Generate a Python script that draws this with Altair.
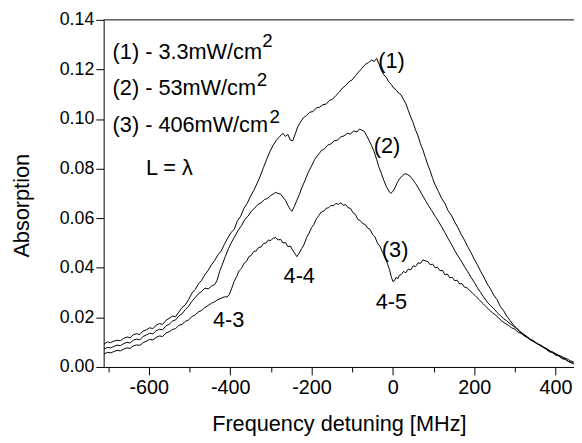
import altair as alt
import pandas as pd

# ---- data ----
f1 = [-710, -702, -694, -686, -678, -670, -662, -654, -646, -638,
      -630, -622, -614, -606, -598, -590, -582, -574, -566, -558,
      -550, -542, -534, -526, -518, -510, -502, -494, -486, -478,
      -470, -462, -454, -446, -438, -430, -422, -414, -406, -398,
      -390, -382, -374, -366, -358, -350, -342, -334, -326, -318,
      -310, -302, -294, -286, -278, -270, -264, -258, -252, -246,
      -240, -234, -228, -220, -212, -204, -196, -188, -180, -172,
      -164, -156, -148, -140, -132, -124, -116, -108, -100, -92,
      -84, -76, -68, -60, -52, -46, -40, -34, -28, -22,
      -16, -10, -4, 2, 8, 14, 20, 26, 32, 38,
      44, 50, 56, 62, 68, 74, 80, 86, 92, 98,
      104, 112, 120, 128, 136, 144, 152, 160, 168, 176,
      184, 192, 200, 208, 216, 224, 232, 240, 248, 256,
      264, 272, 280, 288, 296, 304, 312, 320, 328, 336,
      344, 352, 360, 368, 376, 384, 392, 400, 408, 416,
      424, 432, 440, 445]
a1 = [.0092, .0101, .0098, .0104, .0108, .0106, .0115, .0121, .0118, .0130,
      .0134, .0131, .0145, .0150, .0158, .0155, .0168, .0175, .0172, .0188,
      .0196, .0205, .0203, .0222, .0240, .0251, .0272, .0298, .0312, .0335,
      .0350, .0372, .0390, .0412, .0430, .0452, .0468, .0495, .0520, .0542,
      .0555, .0590, .0608, .0640, .0660, .0688, .0712, .0740, .0770, .0805,
      .0838, .0870, .0895, .0915, .0930, .0942, .0930, .0938, .0915, .0912,
      .0940, .0968, .0985, .1005, .1015, .1028, .1030, .1045, .1048, .1058,
      .1060, .1075, .1080, .1095, .1108, .1125, .1135, .1150, .1158, .1175,
      .1190, .1205, .1220, .1228, .1238, .1232, .1245, .1222, .1195, .1178,
      .1168, .1150, .1140, .1125, .1118, .1105, .1098, .1080, .1062, .1035,
      .1008, .0985, .0955, .0932, .0900, .0875, .0845, .0815, .0790, .0760,
      .0735, .0708, .0680, .0660, .0630, .0612, .0585, .0562, .0535, .0512,
      .0485, .0462, .0435, .0412, .0385, .0362, .0335, .0315, .0290, .0272,
      .0245, .0228, .0205, .0188, .0170, .0158, .0142, .0132, .0122, .0112,
      .0108, .0098, .0090, .0082, .0076, .0065, .0060, .0050, .0046, .0036,
      .0032, .0022, .0018, .0012]

f2 = [-710, -702, -694, -686, -678, -670, -662, -654, -646, -638,
      -630, -622, -614, -606, -598, -590, -582, -574, -566, -558,
      -550, -542, -534, -526, -518, -510, -502, -494, -486, -478,
      -470, -462, -454, -446, -438, -432, -426, -420, -412, -404,
      -396, -388, -380, -372, -364, -356, -348, -340, -332, -324,
      -316, -308, -300, -294, -288, -282, -276, -270, -264, -258,
      -252, -248, -242, -236, -230, -224, -216, -208, -200, -192,
      -184, -176, -168, -160, -152, -144, -136, -128, -120, -112,
      -104, -96, -88, -82, -76, -70, -64, -58, -52, -46,
      -40, -34, -28, -22, -16, -10, -5, 0, 6, 12,
      18, 24, 30, 36, 42, 48, 56, 64, 72, 80,
      88, 96, 104, 112, 120, 128, 136, 144, 152, 160,
      168, 176, 184, 192, 200, 208, 216, 224, 232, 240,
      248, 256, 264, 272, 280, 288, 296, 304, 312, 320,
      328, 336, 344, 352, 360, 368, 376, 384, 392, 400,
      408, 416, 424, 432, 440, 445]
a2 = [.0072, .0079, .0077, .0083, .0088, .0086, .0094, .0099, .0097, .0108,
      .0112, .0110, .0123, .0129, .0136, .0134, .0146, .0152, .0150, .0166,
      .0172, .0185, .0190, .0206, .0215, .0232, .0245, .0265, .0280, .0295,
      .0305, .0318, .0315, .0326, .0332, .0350, .0385, .0410, .0445, .0478,
      .0505, .0528, .0552, .0570, .0595, .0608, .0628, .0640, .0655, .0662,
      .0675, .0680, .0692, .0698, .0704, .0700, .0697, .0685, .0672, .0652,
      .0635, .0628, .0648, .0672, .0695, .0722, .0752, .0785, .0810, .0838,
      .0855, .0872, .0880, .0895, .0900, .0912, .0915, .0928, .0932, .0942,
      .0940, .0952, .0948, .0960, .0955, .0950, .0932, .0912, .0892, .0868,
      .0838, .0805, .0780, .0752, .0728, .0710, .0700, .0708, .0725, .0748,
      .0762, .0772, .0780, .0776, .0770, .0758, .0740, .0718, .0695, .0672,
      .0650, .0630, .0608, .0588, .0565, .0542, .0518, .0495, .0470, .0448,
      .0428, .0405, .0385, .0362, .0342, .0320, .0300, .0280, .0262, .0248,
      .0236, .0220, .0208, .0195, .0186, .0175, .0165, .0155, .0145, .0134,
      .0125, .0115, .0104, .0096, .0089, .0080, .0073, .0062, .0058, .0048,
      .0044, .0034, .0030, .0022, .0016, .0014]

f3 = [-710, -702, -694, -686, -678, -670, -662, -654, -646, -638,
      -630, -622, -614, -606, -598, -590, -582, -574, -566, -558,
      -550, -542, -534, -526, -518, -510, -502, -494, -486, -478,
      -470, -462, -454, -446, -438, -430, -422, -414, -408, -402,
      -396, -390, -384, -378, -372, -366, -360, -354, -348, -342,
      -336, -330, -324, -318, -312, -306, -300, -294, -288, -282,
      -276, -270, -264, -258, -252, -246, -240, -236, -230, -224,
      -218, -212, -206, -200, -194, -188, -182, -176, -170, -164,
      -158, -152, -146, -140, -134, -128, -122, -116, -110, -104,
      -98, -92, -86, -80, -74, -68, -62, -56, -50, -44,
      -38, -32, -26, -20, -14, -8, -4, 0, 4, 8,
      12, 16, 20, 26, 32, 38, 44, 50, 56, 62,
      68, 74, 80, 86, 92, 98, 104, 110, 116, 122,
      128, 134, 140, 146, 152, 158, 164, 170, 176, 182,
      188, 196, 204, 212, 220, 228, 236, 244, 252, 260,
      268, 276, 284, 292, 300, 308, 316, 324, 332, 340,
      348, 356, 364, 372, 380, 388, 396, 404, 412, 420,
      428, 436, 445]
a3 = [.0052, .0059, .0057, .0062, .0067, .0065, .0072, .0077, .0075, .0085,
      .0089, .0087, .0098, .0104, .0111, .0109, .0119, .0125, .0123, .0137,
      .0142, .0151, .0155, .0168, .0172, .0184, .0190, .0203, .0210, .0222,
      .0228, .0240, .0248, .0257, .0263, .0272, .0277, .0283, .0282, .0292,
      .0318, .0345, .0365, .0388, .0398, .0418, .0425, .0445, .0450, .0466,
      .0468, .0482, .0484, .0498, .0500, .0512, .0510, .0520, .0522, .0512,
      .0515, .0500, .0502, .0485, .0488, .0470, .0455, .0445, .0460, .0478,
      .0495, .0522, .0540, .0562, .0575, .0598, .0610, .0625, .0628, .0640,
      .0642, .0652, .0650, .0660, .0656, .0662, .0652, .0655, .0642, .0640,
      .0622, .0615, .0595, .0590, .0578, .0575, .0560, .0555, .0535, .0525,
      .0500, .0488, .0465, .0445, .0420, .0392, .0365, .0345, .0348, .0362,
      .0355, .0370, .0372, .0385, .0380, .0395, .0392, .0408, .0405, .0420,
      .0418, .0432, .0428, .0425, .0412, .0415, .0400, .0402, .0388, .0390,
      .0372, .0375, .0360, .0362, .0348, .0350, .0335, .0336, .0322, .0320,
      .0310, .0298, .0285, .0272, .0258, .0245, .0232, .0220, .0210, .0198,
      .0185, .0176, .0168, .0158, .0152, .0140, .0135, .0124, .0118, .0107,
      .0102, .0092, .0088, .0078, .0072, .0064, .0058, .0050, .0045, .0038,
      .0033, .0025, .0020]

series_names = ["(1)", "(2)", "(3)"]

x_ticks = list(range(-700, 401, 100))
y_ticks = [round(i * 0.01, 2) for i in range(0, 15)]
x_domain = [-711, 445.4]
y_domain = [0.0, 0.14]

# annotations: text, x (MHz), y (absorption), font size
ann_text = ["(1) - 3.3mW/cm", "(2) - 53mW/cm", "(3) - 406mW/cm", "L = \u03bb",
            "2", "2", "2",
            "(1)", "(2)", "(3)", "4-5", "4-4", "4-3"]
ann_x = [-689, -689, -689, -607,
         -321, -334.5, -303,
         -36, -47, -27, -42, -268.6, -442]
ann_y = [0.1244, 0.1097, 0.0947, 0.0775,
         0.1289, 0.1135, 0.0985,
         0.1207, 0.0864, 0.0443, 0.0233, 0.0339, 0.0161]
ann_size = [22, 22, 22, 22,
            19, 19, 19,
            22, 22, 22, 22, 22, 22]

# ---- build tables ----
rows = []
for name, fs, as_ in zip(series_names, [f1, f2, f3], [a1, a2, a3]):
    assert len(fs) == len(as_), name
    for i, (f, a) in enumerate(zip(fs, as_)):
        rows.append({"series": name, "f": f, "a": a, "order": i})
df = pd.DataFrame(rows)
ann = pd.DataFrame({"text": ann_text, "f": ann_x, "a": ann_y, "size": ann_size})
frame = pd.DataFrame({"f": [x_domain[0]], "f2": [x_domain[1]], "a": [y_domain[1]]})

FONT = "Liberation Sans"
W, H = 477, 352

xscale = alt.Scale(domain=x_domain, nice=False, zero=False)
yscale = alt.Scale(domain=y_domain, nice=False, zero=False)

x_axis = alt.Axis(
    values=x_ticks,
    labelExpr="datum.value % 200 == 0 ? '' + datum.value : ''",
    tickSize={"condition": {"test": "datum.value % 200 == 0", "value": 8}, "value": 5},
    labelOverlap=False, labelFlush=False, grid=False,
    title="Frequency detuning [MHz]",
    labelPadding=3, titleY=64, titleBaseline="alphabetic", labelFontSize=20,
)
y_axis = alt.Axis(
    values=y_ticks,
    labelExpr="round(datum.value*100) % 2 == 0 ? format(datum.value, '.2f') : ''",
    tickSize={"condition": {"test": "round(datum.value*100) % 2 == 0", "value": 8}, "value": 5},
    labelOverlap=False, labelFlush=False, grid=False,
    title="Absorption",
    labelPadding=2, titleX=-83, titleY=188, titleBaseline="middle", titleAlign="center",
    titleAngle=270, labelFontSize=18,
)

lines = alt.Chart(df).mark_line(strokeWidth=1, color="black", clip=True).encode(
    x=alt.X("f:Q", scale=xscale, axis=x_axis),
    y=alt.Y("a:Q", scale=yscale, axis=y_axis),
    detail="series:N",
    order="order:Q",
)

top = alt.Chart(frame).mark_rule(color="black", strokeWidth=1).encode(
    x=alt.X("f:Q", scale=xscale),
    x2="f2:Q",
    y=alt.Y("a:Q", scale=yscale),
)

texts = alt.Chart(ann).mark_text(
    align="left", baseline="alphabetic", font=FONT, color="black"
).encode(
    x=alt.X("f:Q", scale=xscale),
    y=alt.Y("a:Q", scale=yscale),
    text="text:N",
    size=alt.Size("size:Q", scale=None, legend=None),
)

chart = alt.layer(lines, top, texts).properties(
    width=W, height=H,
    autosize=alt.AutoSizeParams(type="none"),
    padding={"left": 97, "top": 9, "right": 0, "bottom": 70},
).configure_view(stroke=None).configure_axis(
    labelFont=FONT, titleFont=FONT, titleFontSize=22,
    labelColor="black", titleColor="black", titleFontWeight="normal",
    domainColor="black", tickColor="black", domainWidth=1, tickWidth=1,
)

chart.save("out.html", embed_options={"renderer": "svg", "actions": False})
